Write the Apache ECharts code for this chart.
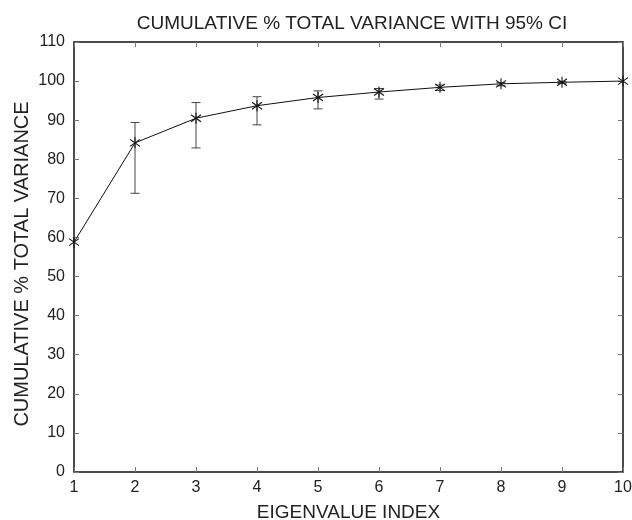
<!DOCTYPE html>
<html>
<head>
<meta charset="utf-8">
<script src="https://cdn.jsdelivr.net/npm/echarts@6/dist/echarts.min.js"></script>
<style>
	html,body{margin:0;padding:0;background:#fff;}
	#main{width:632px;height:520px;}
</style>
</head>
<body>
<div id="main"></div>
<script>
var eigIndex=[1,2,3,4,5,6,7,8,9,10];
var cumVar=[58.8,84.2,90.5,93.7,95.8,97.2,98.4,99.3,99.7,100];
var ciLow=[58.8,71.3,82.9,88.8,92.9,95.4,97.6,98.8,99.4,100];
var ciHigh=[58.8,89.4,94.5,96.0,97.5,98.1,99.0,99.6,99.9,100];
var xTicks={min:1,max:10,interval:1};
var yTicks={min:0,max:110,interval:10};

var font="'Liberation Sans', Arial, sans-serif";
var textColor="#222";

var lineData=[],ciData=[];
for(var i=0;i<eigIndex.length;i++){
	lineData.push([eigIndex[i],cumVar[i]]);
	ciData.push([eigIndex[i],ciLow[i],ciHigh[i],cumVar[i]]);
}

//误差线 + 星号
function renderCI(params,api){
	var x=api.value(0);
	var lo=api.coord([x,api.value(1)]);
	var hi=api.coord([x,api.value(2)]);
	var p=api.coord([x,api.value(3)]);
	var cap=4.5;
	var bar={stroke:"#444",lineWidth:1};
	var mk={stroke:"#111",lineWidth:1.1};
	var children=[];
	if(hi[1]<lo[1]-0.5){
		children.push({type:'line',shape:{x1:lo[0],y1:lo[1],x2:hi[0],y2:hi[1]},style:bar});
		children.push({type:'line',shape:{x1:lo[0]-cap,y1:lo[1],x2:lo[0]+cap,y2:lo[1]},style:bar});
		children.push({type:'line',shape:{x1:hi[0]-cap,y1:hi[1],x2:hi[0]+cap,y2:hi[1]},style:bar});
	}
	children.push({type:'line',shape:{x1:p[0],y1:p[1]-5.5,x2:p[0],y2:p[1]+5.5},style:mk});
	children.push({type:'line',shape:{x1:p[0]-5,y1:p[1]-3.5,x2:p[0]+5,y2:p[1]+3.5},style:mk});
	children.push({type:'line',shape:{x1:p[0]-5,y1:p[1]+3.5,x2:p[0]+5,y2:p[1]-3.5},style:mk});
	return {type:'group',children:children};
}

function xAxisCfg(pos,showLabel){
	return {
		type:'value',
		position:pos,
		min:xTicks.min,max:xTicks.max,interval:xTicks.interval,
		name:showLabel?'EIGENVALUE INDEX':'',
		nameLocation:'middle',
		nameGap:31,
		nameMoveOverlap:false,
		nameTextStyle:{color:textColor,fontSize:19,fontFamily:font},
		axisLine:{show:true,onZero:false,lineStyle:{color:'#111',width:1.5}},
		axisTick:{show:true,inside:true,length:5,lineStyle:{color:'#777',width:1}},
		axisLabel:{show:showLabel,margin:8,color:textColor,fontSize:16,fontFamily:font},
		splitLine:{show:false}
	};
}
function yAxisCfg(pos,showLabel){
	return {
		type:'value',
		position:pos,
		min:yTicks.min,max:yTicks.max,interval:yTicks.interval,
		name:showLabel?'CUMULATIVE % TOTAL VARIANCE':'',
		nameLocation:'middle',
		nameGap:42,
		nameMoveOverlap:false,
		nameTextStyle:{color:textColor,fontSize:20,fontFamily:font,padding:[0,14,0,0]},
		axisLine:{show:true,onZero:false,lineStyle:{color:'#111',width:1.5}},
		axisTick:{show:true,inside:true,length:5,lineStyle:{color:'#777',width:1}},
		axisLabel:{show:showLabel,margin:9,color:textColor,fontSize:16,fontFamily:font},
		splitLine:{show:false}
	};
}

var myChart=echarts.init(document.getElementById('main'),null,{renderer:'canvas'});
var option={
	backgroundColor:'#fff',
	animation:false,
	title:{
		text:'CUMULATIVE % TOTAL VARIANCE WITH 95% CI',
		left:347,
		textAlign:'center',
		top:9,
		textStyle:{color:textColor,fontSize:19,fontWeight:'normal',fontFamily:font}
	},
	grid:{left:74,right:9,top:42,bottom:48,containLabel:false,outerBoundsMode:'none'},
	xAxis:[xAxisCfg('bottom',true),xAxisCfg('top',false)],
	yAxis:[yAxisCfg('left',true),yAxisCfg('right',false)],
	series:[
		{
			type:'line',
			data:lineData,
			symbol:'none',
			lineStyle:{color:'#111',width:1},
			z:2
		},
		{
			type:'custom',
			data:ciData,
			renderItem:renderCI,
			encode:{x:0,y:[1,2,3]},
			z:3
		}
	]
};
myChart.setOption(option);
</script>
</body>
</html>
